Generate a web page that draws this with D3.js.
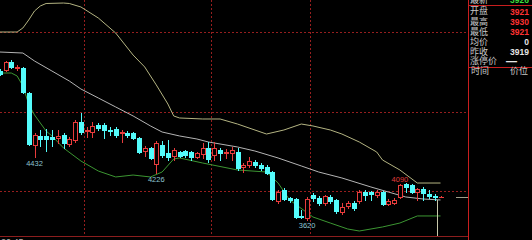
<!DOCTYPE html>
<html>
<head>
<meta charset="utf-8">
<script src="https://cdn.jsdelivr.net/npm/d3@7"></script>
<style>
  html, body { margin: 0; padding: 0; background: #000; overflow: hidden; }
  svg { display: block; }
</style>
</head>
<body>
<svg id="chart"></svg>
<script>
// candle index of the first entry (partly cut off at left edge)
const firstIdx = -1;

// OHLC, one value per candle
const opens = [5542,5555,5658,5575,5581,5258,4588,4704,4704,4691,4678,4717,4600,4652,4884,4762,4755,4846,4846,4775,
  4794,4736,4742,4742,4678,4510,4549,4342,4588,4484,4446,4497,4510,4497,4433,4471,4549,4458,4523,4478,
  4484,4497,4304,4330,4368,4330,4304,4239,3865,4007,3904,3891,3678,3646,3943,3904,3839,3917,3878,3723,
  3801,3839,3865,3981,3981,3943,3981,3826,3839,3917,4084,4071,3981,4020,3955,3930,3921];
const highs = [5568,5671,5684,5620,5594,5271,4742,4781,4794,4781,4781,4742,4691,4910,5000,4820,4884,4871,4871,4820,
  4820,4781,4768,4755,4691,4575,4562,4639,4639,4652,4549,4510,4523,4510,4497,4613,4626,4626,4549,4536,
  4562,4549,4355,4433,4394,4355,4330,4252,4007,4033,3917,3904,3749,3917,3968,3930,3943,3943,3891,3839,
  3865,3865,4007,4007,3994,4007,3994,3891,3904,4090,4097,4084,4033,4046,4007,3955,3930];
const lows = [5490,5542,5581,5555,5258,4588,4432,4575,4510,4575,4613,4549,4575,4626,4729,4691,4691,4781,4678,4717,
  4691,4626,4691,4665,4484,4446,4407,4226,4433,4394,4394,4433,4433,4394,4420,4420,4368,4394,4394,4420,
  4394,4265,4239,4304,4304,4265,4213,3878,3839,3878,3852,3646,3646,3620,3865,3814,3814,3839,3710,3697,
  3775,3749,3839,3878,3878,3917,3814,3814,3826,3904,3981,3968,3878,3878,3904,3878,3921];
const closes = [5503,5658,5594,5594,5271,4600,4717,4665,4665,4665,4704,4613,4665,4884,4755,4775,4833,4807,4781,4762,
  4717,4749,4717,4678,4497,4549,4420,4613,4458,4433,4523,4452,4458,4433,4484,4549,4407,4549,4484,4491,
  4523,4291,4330,4381,4330,4291,4226,3891,3981,3891,3878,3659,3665,3891,3904,3839,3930,3865,3736,3788,
  3839,3775,3981,3943,3955,3981,3826,3865,3878,4071,4046,3981,4020,3968,3930,3917,3921];

// Bollinger bands, [candle index, price]
const upperBand = [[-1,6045],[2,6045],[3,6097],[4,6200],[5,6316],[6,6381],[7,6413],[10,6419],[11,6413],[13,6368],
  [16,6226],[19,6032],[22,5748],[24,5594],[26,5362],[28,5116],[29,4962],[30,4936],[34,4923],[37,4923],
  [40,4858],[45,4729],[48,4781],[51,4858],[53,4833],[56,4781],[58,4729],[61,4626],[64,4497],[65,4394],
  [68,4265],[71,4097],[75,4097]];
const midBand = [[-1,5787],[3,5774],[5,5671],[8,5542],[11,5413],[13,5310],[16,5194],[19,5078],[22,4962],[25,4833],
  [27,4755],[30,4704],[33,4665],[35,4626],[40,4562],[43,4510],[47,4420],[51,4317],[54,4239],[58,4162],
  [63,4046],[66,3981],[69,3917],[72,3891],[75,3878]];
const lowerBand = [[-1,5516],[1,5516],[2,5478],[3,5349],[4,5116],[5,4975],[7,4768],[8,4704],[10,4549],[13,4381],
  [16,4252],[19,4175],[22,4200],[25,4175],[27,4239],[29,4407],[30,4420],[34,4355],[40,4265],[45,4239],
  [47,4097],[49,3878],[53,3659],[56,3581],[59,3504],[61,3478],[65,3530],[68,3581],[71,3672],[75,3672]];

// marked extremes
const markIdx = [5, 26, 52, 68];
const markPrice = [4432, 4226, 3620, 4090];
const markIsHigh = [false, false, false, true];

// grid
const gridPrices = [6045, 5013, 3994];
const gridIdx = [13.5, 35.5, 52.5];

// quote panel
const panelLabels = ["开盘", "最高", "最低", "均价", "昨收", "涨停价"];
const panelValues = ["3921", "3930", "3921", "0", "3919", "—"];
const panelRed = [true, true, true, false, false, false];
const lastPrice = "3926";
const lastClose = 3921;

const W = 532, H = 240;
const plotR = 468, plotB = 236;
const UP = "#e83c3c", DOWN = "#54fcfc";

const svg = d3.select("#chart").attr("width", W).attr("height", H)
  .style("background", "#000");

svg.append("defs").append("clipPath").attr("id", "plot")
  .append("rect").attr("x", 0).attr("y", 0).attr("width", plotR).attr("height", plotB);

const x = d3.scaleLinear().domain([-1, 75]).range([-0.3, 440.5]);
const y = d3.scaleLinear().domain([3500, 6458]).range([229.3, 0]);

const plot = svg.append("g").attr("clip-path", "url(#plot)");

// dotted grid
plot.append("g").selectAll("line").data(gridPrices).enter().append("line")
  .attr("x1", 0).attr("x2", plotR)
  .attr("y1", d => Math.round(y(d)) + 0.5).attr("y2", d => Math.round(y(d)) + 0.5)
  .attr("stroke", "#961e1e").attr("stroke-dasharray", "2,2")
  .attr("shape-rendering", "crispEdges");
plot.append("g").selectAll("line").data(gridIdx).enter().append("line")
  .attr("x1", d => Math.round(x(d)) + 0.5).attr("x2", d => Math.round(x(d)) + 0.5)
  .attr("y1", 0).attr("y2", plotB)
  .attr("stroke", "#961e1e").attr("stroke-dasharray", "2,2")
  .attr("shape-rendering", "crispEdges");

// bands
const line = d3.line().x(d => x(d[0])).y(d => y(d[1]));
[[upperBand, "#b4b482"], [midBand, "#b4b4b4"], [lowerBand, "#3c9632"]].forEach(([data, col]) => {
  plot.append("path").datum(data).attr("d", line)
    .attr("fill", "none").attr("stroke", col).attr("stroke-width", 1);
});

// candles
const candles = opens.map((o, i) => ({
  k: i + firstIdx, o: o, h: highs[i], l: lows[i], c: closes[i]
}));

const cg = plot.append("g").attr("shape-rendering", "crispEdges");
candles.forEach(d => {
  const cx = Math.round(x(d.k));
  const up = d.c >= d.o;
  const col = up ? UP : DOWN;
  const top = Math.round(y(Math.max(d.o, d.c)));
  const bot = Math.round(y(Math.min(d.o, d.c)));
  cg.append("line")
    .attr("x1", cx + 0.5).attr("x2", cx + 0.5)
    .attr("y1", Math.round(y(d.h))).attr("y2", Math.round(y(d.l)) + 1)
    .attr("stroke", col);
  if (bot - top < 1) {
    cg.append("line")
      .attr("x1", cx - 2).attr("x2", cx + 3)
      .attr("y1", top + 0.5).attr("y2", top + 0.5)
      .attr("stroke", col);
  } else if (up) {
    cg.append("rect")
      .attr("x", cx - 1.5).attr("y", top + 0.5)
      .attr("width", 4).attr("height", bot - top)
      .attr("fill", "#000").attr("stroke", col);
  } else {
    cg.append("rect")
      .attr("x", cx - 2).attr("y", top)
      .attr("width", 5).attr("height", bot - top + 1)
      .attr("fill", col);
  }
});

// extreme labels
plot.append("g").selectAll("text").data(markIdx).enter().append("text")
  .attr("x", d => x(d))
  .attr("y", (d, i) => markIsHigh[i] ? y(markPrice[i]) - 1.5 : y(markPrice[i]) + 8.5)
  .attr("text-anchor", "middle")
  .attr("font-family", "Liberation Sans, Arial, sans-serif")
  .attr("font-size", 7.5)
  .attr("fill", (d, i) => markIsHigh[i] ? "#e03c3c" : "#8cc4d2")
  .text((d, i) => markPrice[i]);

// cursor line and last price marker
plot.append("line")
  .attr("x1", 437.5).attr("x2", 437.5).attr("y1", 200).attr("y2", plotB)
  .attr("stroke", "#c8c8aa").attr("shape-rendering", "crispEdges");
plot.append("line")
  .attr("x1", 456).attr("x2", plotR)
  .attr("y1", Math.round(y(lastClose)) + 0.5).attr("y2", Math.round(y(lastClose)) + 0.5)
  .attr("stroke", "#a0a08c").attr("shape-rendering", "crispEdges");

// frame
svg.append("line").attr("x1", 0).attr("x2", plotR).attr("y1", plotB + 0.5).attr("y2", plotB + 0.5)
  .attr("stroke", "#8c1e1e").attr("shape-rendering", "crispEdges");
svg.append("line").attr("x1", plotR + 0.5).attr("x2", plotR + 0.5).attr("y1", 0).attr("y2", H)
  .attr("stroke", "#c81e1e").attr("shape-rendering", "crispEdges");
[5, 67].forEach(yy => {
  svg.append("line").attr("x1", plotR).attr("x2", W).attr("y1", yy + 0.5).attr("y2", yy + 0.5)
    .attr("stroke", "#c81e1e").attr("shape-rendering", "crispEdges");
});

// bottom-left axis label, mostly cut off
svg.append("text").attr("x", 1).attr("y", 245)
  .attr("font-family", "Liberation Sans, Arial, sans-serif").attr("font-size", 9)
  .attr("fill", "#b4b4b4").text("20.45");

// quote panel
const panel = svg.append("g")
  .attr("font-family", "Noto Sans CJK SC, sans-serif").attr("font-size", 9);
panel.append("text").attr("x", 470).attr("y", 3).attr("fill", "#c8c8c8").text("最新");
panel.append("text").attr("x", 529).attr("y", 3).attr("text-anchor", "end")
  .attr("font-family", "Liberation Sans, Arial, sans-serif").attr("font-weight", "bold")
  .attr("font-size", 8.5).attr("fill", "#3cdc3c").text(lastPrice);

const rowY = [14, 24.5, 34.5, 44.5, 54.5, 64];
panelLabels.forEach((lab, i) => {
  panel.append("text").attr("x", 470).attr("y", rowY[i]).attr("fill", "#c8c8c8").text(lab);
  panel.append("text").attr("x", i === 5 ? 517 : 529).attr("y", rowY[i] + 0.5)
    .attr("text-anchor", "end")
    .attr("font-family", "Liberation Sans, Arial, sans-serif").attr("font-weight", "bold")
    .attr("font-size", i === 5 ? 11 : 8.5)
    .attr("fill", panelRed[i] ? "#ff3232" : "#e6e6e6")
    .text(panelValues[i]);
});
panel.append("text").attr("x", 471).attr("y", 74).attr("fill", "#c8c8c8").text("时间");
panel.append("text").attr("x", 528).attr("y", 74).attr("text-anchor", "end").attr("fill", "#c8c8c8").text("价位");
</script>
</body>
</html>
